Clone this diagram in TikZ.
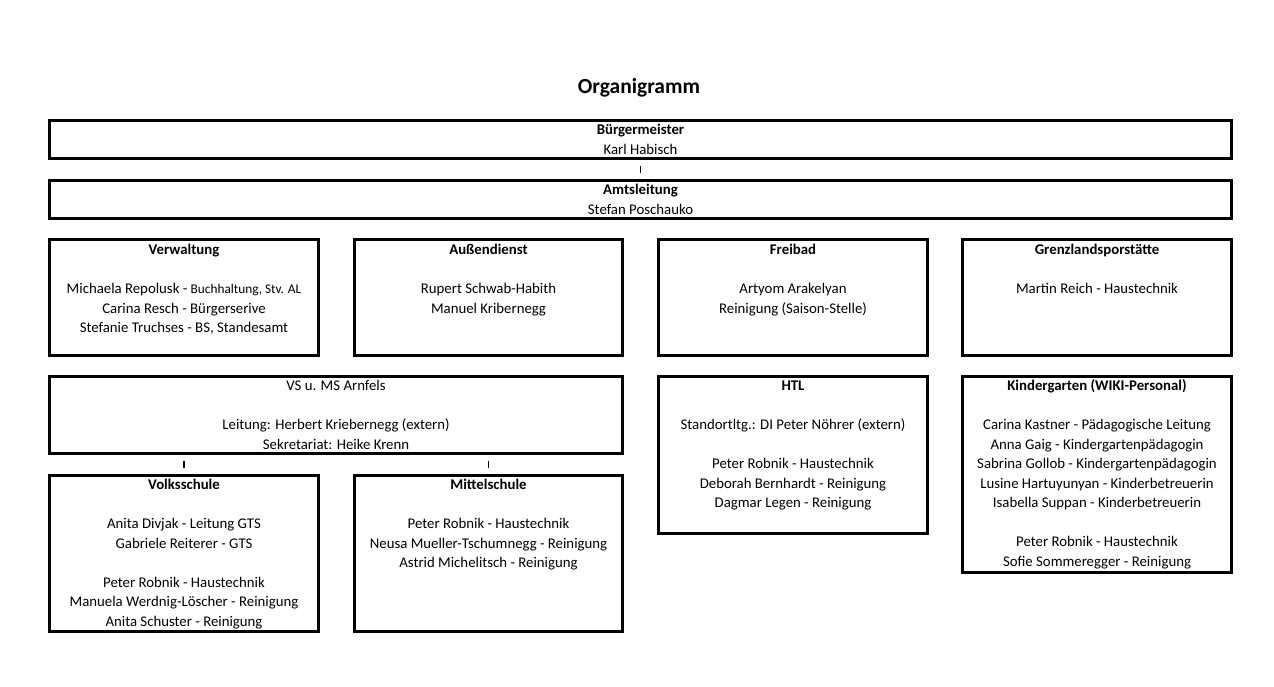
\documentclass[tikz,border=0pt]{standalone}
\usepackage{fontspec}
\setmainfont{Carlito}
\tikzset{
  orgbox/.style={draw=black, line width=3pt, inner sep=0pt, rectangle},
  orgtext/.style={anchor=north, align=center, inner sep=0pt, font=\fontsize{14.8}{19.5}\selectfont},
  tick/.style={line width=1.2pt, shorten <=6pt, shorten >=6pt}
}
\newcommand{\obox}[5]{%
  \node[orgbox, minimum width={(#4-#2-3)*1pt}, minimum height={(#5-#3-3)*1pt}] (#1) at ({(#2+#4)/2},{(#3+#5)/2}) {};}
% first-line top is 14pt above the first baseline
\newcommand{\fl}{\rule{0pt}{14pt}}
\begin{document}
\begin{tikzpicture}[x=1pt,y=-1pt]
\useasboundingbox (0,0) rectangle (1274,686);
\node[anchor=base, inner sep=0pt, font=\fontsize{21.5}{24}\selectfont\bfseries] (title) at (639,93) {Organigramm};

\obox{bm}{48}{119}{1233}{160}
\obox{al}{48}{179}{1233}{220}
\obox{verw}{48}{238}{320}{357}
\obox{aus}{353}{238}{624}{357}
\obox{frei}{657}{238}{929}{357}
\obox{grenz}{961}{238}{1233}{357}
\obox{vsms}{48}{375}{624}{455}
\obox{htl}{657}{375}{929}{535}
\obox{kiga}{961}{375}{1233}{574}
\obox{vol}{48}{474}{320}{633}
\obox{mit}{353}{474}{624}{633}

\node[orgtext] (tbm) at (bm.center |- 0,120.5) {\fl\textbf{Bürgermeister}\\Karl Habisch};
\node[orgtext] (tal) at (al.center |- 0,180.5) {\fl\textbf{Amtsleitung}\\Stefan Poschauko};
\node[orgtext] (tverw) at (verw.center |- 0,240.5) {\fl\textbf{Verwaltung}\\[19.5pt]Michaela Repolusk - {\fontsize{13.3}{19.5}\selectfont Buchhaltung, Stv. AL}\\Carina Resch - Bürgerserive\\Stefanie Truchses - BS, Standesamt};
\node[orgtext] (taus) at (aus.center |- 0,240.5) {\fl\textbf{Außendienst}\\[19.5pt]Rupert Schwab-Habith\\Manuel Kribernegg};
\node[orgtext] (tfrei) at (frei.center |- 0,240.5) {\fl\textbf{Freibad}\\[19.5pt]Artyom Arakelyan\\Reinigung (Saison-Stelle)};
\node[orgtext] (tgrenz) at (grenz.center |- 0,240.5) {\fl\textbf{Grenzlandsporstätte}\\[19.5pt]Martin Reich - Haustechnik};
\node[orgtext] (tvsms) at (vsms.center |- 0,376.5) {\fl VS u. MS Arnfels\\[19.5pt]Leitung: Herbert Kriebernegg (extern)\\Sekretariat: Heike Krenn};
\node[orgtext] (thtl) at (htl.center |- 0,376.5) {\fl\textbf{HTL}\\[19.5pt]Standortltg.: DI Peter Nöhrer (extern)\\[19.5pt]Peter Robnik - Haustechnik\\Deborah Bernhardt - Reinigung\\Dagmar Legen - Reinigung};
\node[orgtext] (tkiga) at (kiga.center |- 0,376.5) {\fl\textbf{Kindergarten (WIKI-Personal)}\\[19.5pt]Carina Kastner - Pädagogische Leitung\\Anna Gaig - Kindergartenpädagogin\\Sabrina Gollob - Kindergartenpädagogin\\Lusine Hartuyunyan - Kinderbetreuerin\\Isabella Suppan - Kinderbetreuerin\\[19.5pt]Peter Robnik - Haustechnik\\Sofie Sommeregger - Reinigung};
\node[orgtext] (tvol) at (vol.center |- 0,475.5) {\fl\textbf{Volksschule}\\[19.5pt]Anita Divjak - Leitung GTS\\Gabriele Reiterer - GTS\\[19.5pt]Peter Robnik - Haustechnik\\Manuela Werdnig-Löscher - Reinigung\\Anita Schuster - Reinigung};
\node[orgtext] (tmit) at (mit.center |- 0,475.5) {\fl\textbf{Mittelschule}\\[19.5pt]Peter Robnik - Haustechnik\\Neusa Mueller-Tschumnegg - Reinigung\\Astrid Michelitsch - Reinigung};

\draw[tick] (bm.south) -- (al.north);
\draw[tick] (vol.north |- vsms.south) -- (vol.north);
\draw[tick] (mit.north |- vsms.south) -- (mit.north);
\end{tikzpicture}
\end{document}
